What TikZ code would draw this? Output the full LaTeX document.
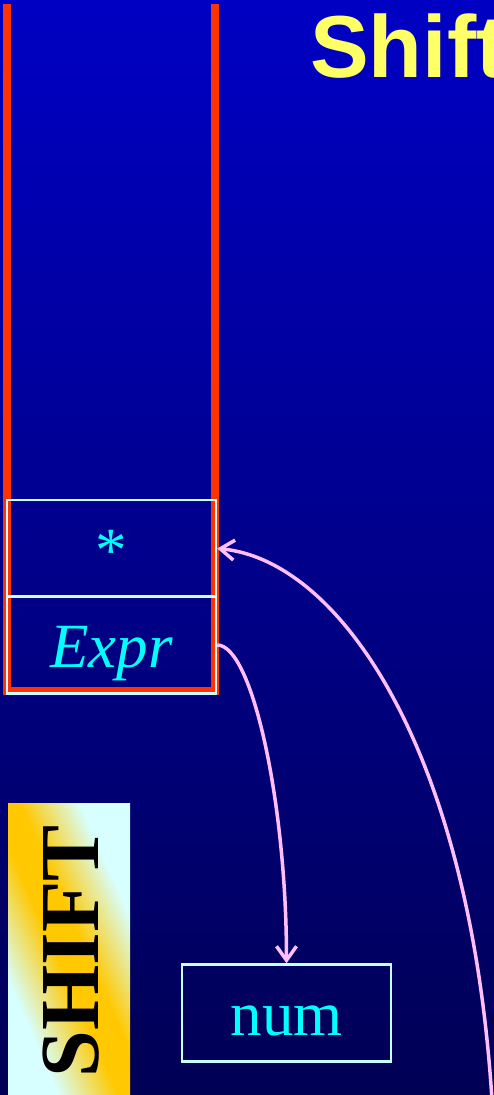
\documentclass[tikz,border=0pt]{standalone}
\usepackage{fontspec}
\setmainfont{Liberation Serif}
\newfontfamily\titlefont{Liberation Sans}
\usetikzlibrary{arrows.meta}

\definecolor{bgtop}{RGB}{0,0,196}
\definecolor{bgbot}{RGB}{0,0,84}
\definecolor{stackred}{RGB}{255,51,0}
\definecolor{cellline}{RGB}{200,255,255}
\definecolor{celltext}{RGB}{0,255,255}
\definecolor{arrowpink}{RGB}{255,190,255}
\definecolor{titleyellow}{RGB}{255,255,102}
\definecolor{shiftgold}{RGB}{255,200,0}
\definecolor{shiftcyan}{RGB}{215,255,255}

\pgfdeclarehorizontalshading{shiftband}{100bp}{color(0bp)=(shiftcyan); color(30bp)=(shiftcyan); color(46bp)=(shiftgold); color(54bp)=(shiftgold); color(70bp)=(shiftcyan); color(100bp)=(shiftcyan)}

\begin{document}
\begin{tikzpicture}[x=1pt,y=1pt,yscale=-1,xscale=1,
  cell/.style={draw=cellline,line width=2.5pt,minimum width=209pt,inner sep=0pt,
    text height=71pt,text depth=26pt,text=celltext,font=\fontsize{63}{70}\selectfont},
  flow/.style={draw=arrowpink,line width=3.5pt,-{Straight Barb[length=14pt,width=20pt]}}]

\useasboundingbox (0,0) rectangle (494,1095);
\clip (0,0) rectangle (494,1095);

\shade[top color=bgtop,bottom color=bgbot] (0,0) rectangle (494,1095);

% title
\node[anchor=base west,inner sep=0pt,text=titleyellow,font=\titlefont\bfseries\fontsize{88}{96}\selectfont] (title) at (310,77) {Shift};

% stack
\draw[stackred,line width=8pt] (7,4) -- (7,691) -- (215,691) -- (215,4);

\node[cell] (star) at (111.5,548.5) {*};

\node[cell,font=\fontsize{63}{70}\selectfont\itshape] (expr) at (111.5,645) {Expr};

% input
\node[cell] (num) at (286.5,1013) {num};

% action label
\shade[shading=shiftband,shading angle=24] (8,803) rectangle (130,1095);

\node[rotate=90,inner sep=0pt,text=black,font=\bfseries\fontsize{84}{90}\selectfont] (shift) at (71.5,951.5) {SHIFT};

% arrows
\coordinate (offpage) at (492,1100);

\draw[flow] (expr.east) .. controls +(35,0) and +(0,-160) .. (num.north);

\draw[flow] (offpage) .. controls (470,750) and (340,560) .. (star.east);

\end{tikzpicture}
\end{document}
